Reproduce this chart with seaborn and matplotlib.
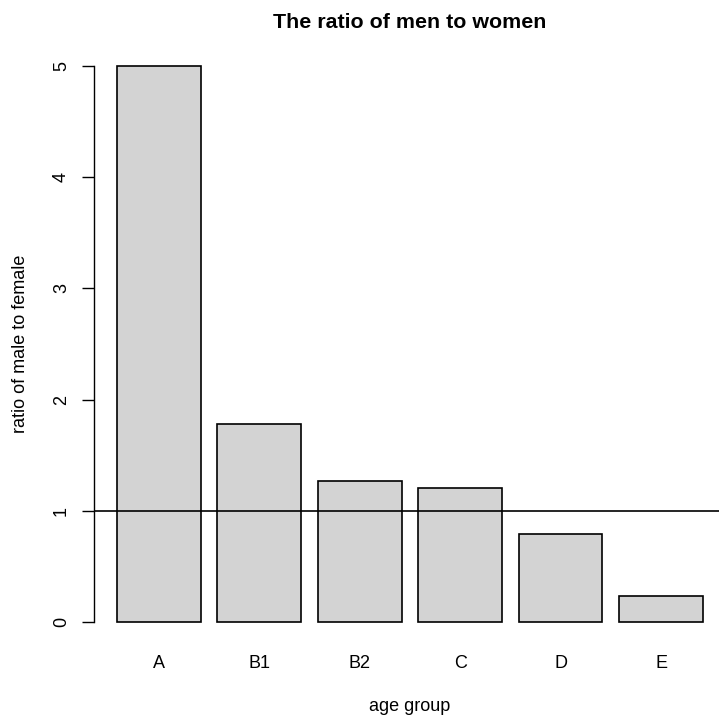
import matplotlib
matplotlib.use("Agg")
import matplotlib.pyplot as plt
import seaborn as sns
import pandas as pd

groups = ["A", "B1", "B2", "C", "D", "E"]
ratios = [5.0, 1.78, 1.27, 1.21, 0.79, 0.24]

sns.set_theme(style="white")
plt.rcParams["font.family"] = ["Liberation Sans", "DejaVu Sans"]
plt.rcParams["text.color"] = "black"
plt.rcParams["axes.labelcolor"] = "black"
plt.rcParams["xtick.color"] = "black"
plt.rcParams["ytick.color"] = "black"

df = pd.DataFrame({"group": groups, "ratio": ratios})

fig = plt.figure(figsize=(7.19, 7.18), dpi=100)
ax = fig.add_axes([0.1302, 0.1022, 0.880, 0.8373])

sns.barplot(data=df, x="group", y="ratio", order=groups, color="#d3d3d3",
            saturation=1, width=1 / 1.2, edgecolor="black", linewidth=1.2, ax=ax)
ax.axhline(1, color="black", linewidth=1.2)

ax.set_xlim(-0.65, 5.65)
ax.set_ylim(-0.2, 5.2)
ax.set_yticks([0, 1, 2, 3, 4, 5])
ax.set_yticklabels(["0", "1", "2", "3", "4", "5"], rotation=90, va="center", fontsize=13)
ax.tick_params(axis="y", left=True, length=9, width=1, pad=8)
ax.tick_params(axis="x", bottom=False, labelsize=13, pad=1.5)

for s in ["top", "right", "bottom"]:
    ax.spines[s].set_visible(False)
ax.spines["left"].set_bounds(0, 5)
ax.spines["left"].set_color("black")
ax.spines["left"].set_linewidth(1)

ax.set_xlabel("age group", fontsize=13, labelpad=19)
ax.set_ylabel("ratio of male to female", fontsize=13, labelpad=17)
ax.set_title("The ratio of men to women", fontsize=15.4, fontweight="bold", pad=11)

fig.savefig("out.png", dpi=100)
